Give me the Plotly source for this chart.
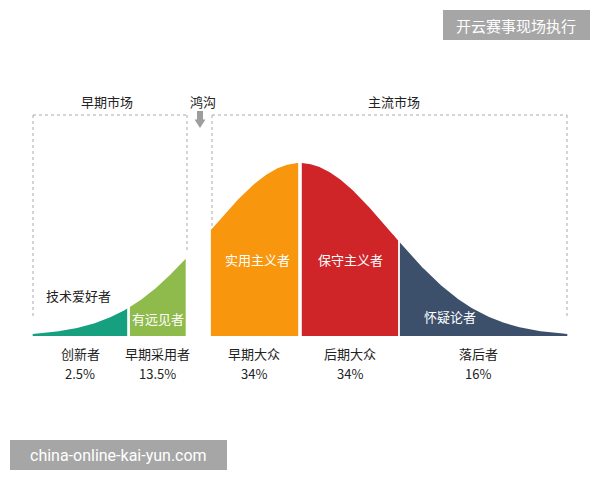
import numpy as np
import plotly.graph_objects as go

# ---- data ----
groups = ["创新者", "早期采用者", "早期大众", "后期大众", "落后者"]
shares = ["2.5%", "13.5%", "34%", "34%", "16%"]
roles = ["技术爱好者", "有远见者", "实用主义者", "保守主义者", "怀疑论者"]
colors = ["#17a07f", "#8fbb4c", "#f8960e", "#cf2428", "#3c4f6b"]
# segment edges on the bell curve, in standard deviations
seg_start = [-2.97, -1.89, -0.99, 0.02, 1.11]
seg_end = [-1.92, -1.27, -0.02, 1.09, 2.97]
markets = ["早期市场", "鸿沟", "主流市场"]

W, H = 600, 480
CX, SX = 300, 90       # px of mean, px per sigma
BY, SY = 336, 173      # px of baseline, px per unit height


def px(x):
    return x / W


def py(y):
    return 1 - y / H


fig = go.Figure()
for i in range(5):
    s = np.linspace(seg_start[i], seg_end[i], 120)
    h = np.exp(-s ** 2 / 2)
    xs = list(s) + [seg_end[i], seg_start[i]]
    ys = list(h) + [0, 0]
    fig.add_trace(go.Scatter(x=xs, y=ys, fill="toself", fillcolor=colors[i],
                             mode="lines", line=dict(width=0), hoverinfo="skip",
                             showlegend=False))

annotations = []
font_dark = dict(family="Noto Sans CJK SC", size=13, color="#222222")
font_white = dict(family="Noto Sans CJK SC", size=13, color="#ffffff")


def txt(x, y, t, f):
    annotations.append(dict(x=px(x), y=py(y), xref="paper", yref="paper", text=t,
                            showarrow=False, font=f, xanchor="center", yanchor="middle"))


# bottom labels
label_px = [80, 158, 254, 350, 478]
for i in range(5):
    txt(label_px[i], 353, groups[i], font_dark)
    txt(label_px[i], 373, shares[i], font_dark)

# role labels
role_pos = [(78, 295, font_dark), (158, 318, font_white), (257, 259, font_white),
            (350, 259, font_white), (450, 316, font_white)]
for i, (x, y, f) in enumerate(role_pos):
    txt(x, y, roles[i], f)

# market headers
for t, x in zip(markets, [107, 203, 394]):
    txt(x, 101, t, font_dark)

# watermarks
txt(516, 25, "开云赛事现场执行", dict(family="Noto Sans CJK SC", size=15, color="#ffffff"))
txt(118, 455, "china-online-kai-yun.com", dict(family="Roboto", size=16, color="#ffffff"))

shapes = []
dot = dict(color="#aaaaaa", width=1, dash="dot")


def seg(x0, y0, x1, y1):
    shapes.append(dict(type="line", xref="paper", yref="paper", x0=px(x0), y0=py(y0),
                       x1=px(x1), y1=py(y1), line=dot, layer="below"))


# early market box
seg(33, 115, 187, 115)
seg(33, 115, 33, 318)
seg(187, 115, 187, 250)
# mainstream market box
seg(212, 115, 567, 115)
seg(212, 115, 212, 230)
seg(567, 115, 567, 318)

# chasm arrow
shapes.append(dict(type="rect", xref="paper", yref="paper", x0=px(197), x1=px(203),
                   y0=py(111), y1=py(120), fillcolor="#9d9d9d", line=dict(width=0)))
shapes.append(dict(type="path", xref="paper", yref="paper",
                   path=f"M {px(194.5)} {py(119.5)} L {px(205.5)} {py(119.5)} L {px(200)} {py(128)} Z",
                   fillcolor="#9d9d9d", line=dict(width=0)))

# watermark boxes
shapes.append(dict(type="rect", xref="paper", yref="paper", x0=px(443), x1=px(590),
                   y0=py(10), y1=py(40), fillcolor="#a6a6a6", line=dict(width=0), layer="below"))
shapes.append(dict(type="rect", xref="paper", yref="paper", x0=px(10), x1=px(227),
                   y0=py(440), y1=py(470), fillcolor="#a6a6a6", line=dict(width=0), layer="below"))

fig.update_layout(
    width=W, height=H,
    margin=dict(l=0, r=0, t=0, b=0),
    paper_bgcolor="#ffffff", plot_bgcolor="#ffffff",
    xaxis=dict(range=[-CX / SX, (W - CX) / SX], visible=False, fixedrange=True),
    yaxis=dict(range=[-(H - BY) / SY, BY / SY], visible=False, fixedrange=True),
    annotations=annotations, shapes=shapes, showlegend=False,
)

fig.write_html("out.html", config={"displayModeBar": False},
               post_script="document.body.style.margin='0';document.body.style.overflow='hidden';")
